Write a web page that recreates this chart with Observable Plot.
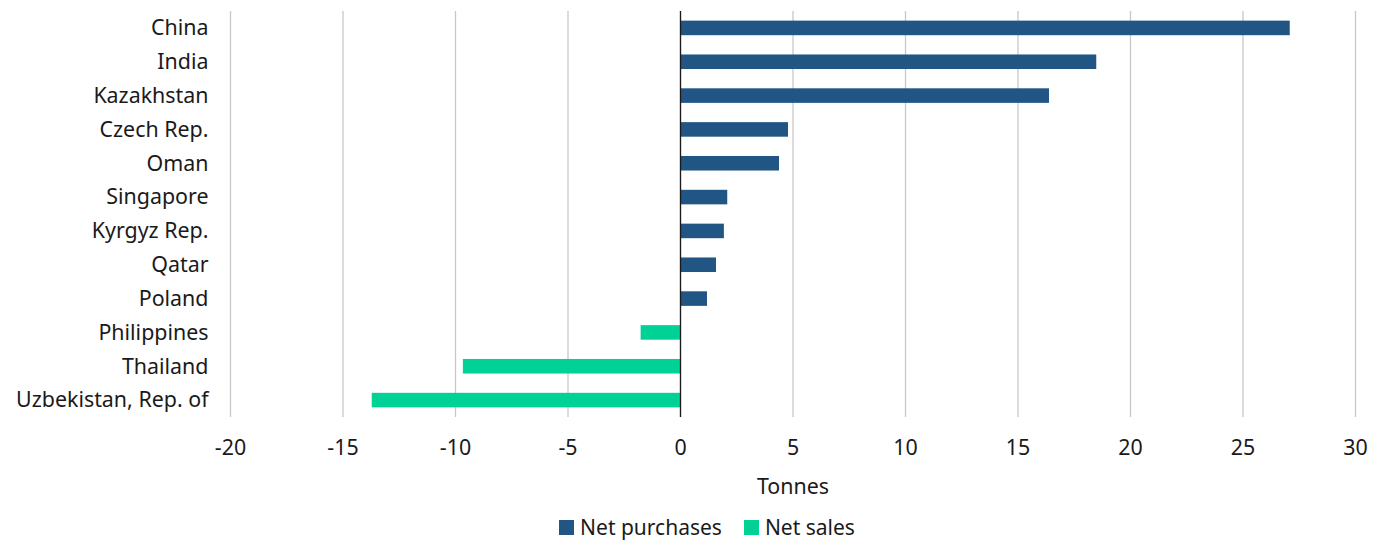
<!DOCTYPE html>
<html>
<head>
<meta charset="utf-8">
<script src="https://cdn.jsdelivr.net/npm/d3@7"></script>
<script src="https://cdn.jsdelivr.net/npm/@observablehq/plot@0.6"></script>
<style>
  body { margin: 0; background: #fff; font-family: "Noto Sans", sans-serif; }
  #legend { display: flex; justify-content: center; gap: 22px; font-size: 21px; color: #1a1a1a; margin-left: 32px; margin-top: 8px; }
  #legend span.item { display: flex; align-items: center; gap: 6px; }
  #legend span.sw { width: 15px; height: 15px; display: inline-block; }
</style>
</head>
<body>
<div id="chart"></div>
<div id="legend"></div>
<script>
const countries = ["China", "India", "Kazakhstan", "Czech Rep.", "Oman", "Singapore", "Kyrgyz Rep.", "Qatar", "Poland", "Philippines", "Thailand", "Uzbekistan, Rep. of"];
const values = [27.1, 18.5, 16.4, 4.8, 4.4, 2.1, 1.95, 1.6, 1.2, -1.75, -9.65, -13.7];
const seriesNames = ["Net purchases", "Net sales"];
const seriesColors = ["#215583", "#00d296"];
const xTicks = [-20, -15, -10, -5, 0, 5, 10, 15, 20, 25, 30];

const data = countries.map((c, i) => ({country: c, value: values[i], series: values[i] >= 0 ? seriesNames[0] : seriesNames[1]}));

const plot = Plot.plot({
  width: 1382,
  height: 505,
  marginLeft: 230,
  marginRight: 27,
  marginTop: 11,
  marginBottom: 88,
  style: {fontFamily: "'Noto Sans', sans-serif", fontSize: "21.4px", color: "#1a1a1a", background: "#fff"},
  x: {domain: [-20, 30], ticks: xTicks, tickSize: 0, tickPadding: 22, label: "Tonnes", labelAnchor: "center", labelArrow: "none", labelOffset: 76, tickFormat: d => d < 0 ? "-" + Math.abs(d) : String(d)},
  y: {domain: countries, paddingInner: 0.57, paddingOuter: 0.285, round: false, tickSize: 0, tickPadding: 22, label: null},
  color: {domain: seriesNames, range: seriesColors},
  marks: [
    Plot.gridX(xTicks, {stroke: "#c8c8c8", strokeOpacity: 1, strokeWidth: 1.3}),
    Plot.barX(data, {x: "value", y: "country", fill: "series"}),
    Plot.ruleX([0], {stroke: "#1a1a1a", strokeWidth: 1.3})
  ]
});
document.getElementById("chart").appendChild(plot);

const legend = document.getElementById("legend");
seriesNames.forEach((n, i) => {
  const item = document.createElement("span");
  item.className = "item";
  const sw = document.createElement("span");
  sw.className = "sw";
  sw.style.background = seriesColors[i];
  item.appendChild(sw);
  item.appendChild(document.createTextNode(n));
  legend.appendChild(item);
});
</script>
</body>
</html>
